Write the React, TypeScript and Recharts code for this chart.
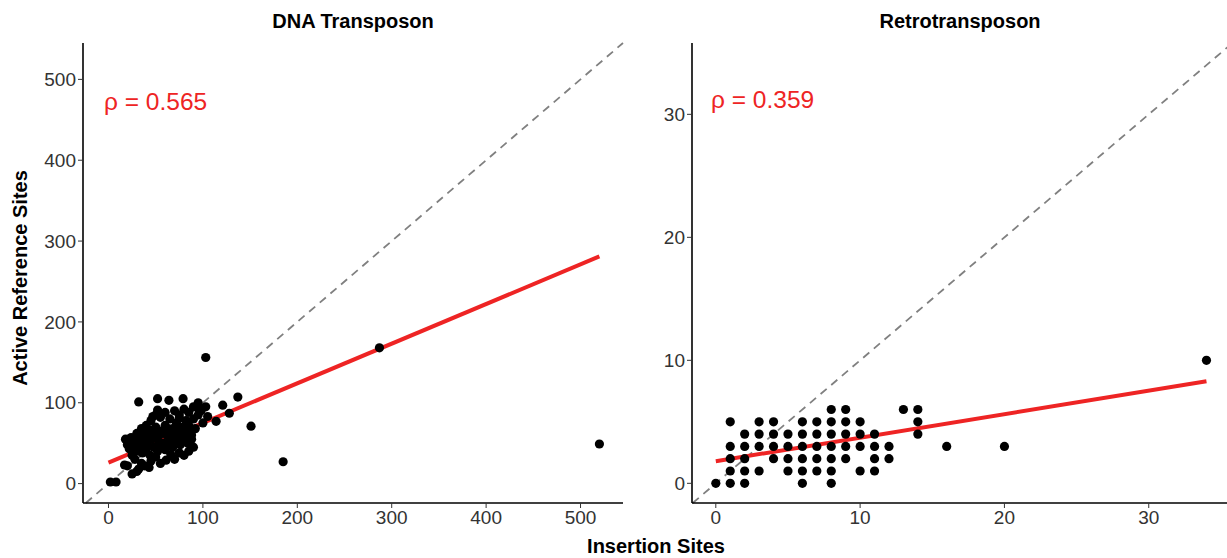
import { ScatterChart, Scatter, XAxis, YAxis, ReferenceLine } from 'recharts';

// DNA transposon: [insertion sites, active reference sites]
const dnaPoints: [number, number][] = [
  [2, 2], [8, 2], [17, 23], [20, 22], [25, 12], [30, 15], [43, 20], [35, 25], [45, 28], [55, 25],
  [61, 29], [70, 30], [80, 35], [75, 38], [85, 40], [90, 45], [32, 18], [38, 22], [50, 33], [66, 36],
  [18, 55], [22, 43], [25, 50], [28, 45], [30, 55], [33, 52], [35, 60], [38, 48], [40, 58], [42, 65],
  [45, 55], [48, 62], [50, 70], [52, 58], [55, 65], [58, 50], [60, 72], [62, 60], [65, 55], [68, 68],
  [70, 62], [72, 75], [75, 58], [78, 70], [80, 65], [82, 78], [85, 72], [88, 60], [90, 80], [92, 68],
  [95, 85], [98, 90], [100, 75], [25, 35], [28, 30], [32, 40], [36, 38], [40, 42], [44, 35], [48, 45],
  [52, 40], [56, 48], [60, 42], [64, 50], [68, 45], [72, 52], [76, 48], [80, 55], [84, 50], [88, 55],
  [30, 62], [35, 68], [40, 72], [45, 78], [50, 85], [55, 82], [60, 88], [65, 80], [70, 90], [75, 85],
  [80, 92], [85, 88], [90, 95], [95, 97], [20, 48], [24, 57], [27, 40], [31, 47], [34, 44], [37, 55],
  [41, 50], [46, 66], [53, 52], [57, 62], [63, 68], [67, 58], [71, 66], [77, 62], [83, 60], [87, 67],
  [32, 101], [52, 105], [64, 103], [79, 105], [95, 100], [103, 95], [105, 83], [96, 91], [47, 83], [52, 91],
  [75, 81], [114, 77], [121, 97], [128, 87], [137, 107], [151, 71], [103, 156], [185, 27], [287, 168], [520, 49],
];

// Retrotransposon: [insertion sites, active reference sites]
const retroPoints: [number, number][] = [
  [0, 0], [1, 0], [2, 0], [6, 0], [8, 0],
  [1, 1], [2, 1], [3, 1], [5, 1], [6, 1], [7, 1], [8, 1], [10, 1], [11, 1],
  [1, 2], [2, 2], [4, 2], [5, 2], [6, 2], [7, 2], [8, 2], [9, 2], [11, 2], [12, 2],
  [1, 3], [2, 3], [3, 3], [4, 3], [5, 3], [6, 3], [7, 3], [8, 3], [9, 3], [10, 3], [11, 3], [12, 3], [16, 3], [20, 3],
  [2, 4], [3, 4], [4, 4], [5, 4], [6, 4], [7, 4], [8, 4], [9, 4], [10, 4], [11, 4], [14, 4],
  [1, 5], [3, 5], [4, 5], [6, 5], [7, 5], [8, 5], [9, 5], [10, 5], [14, 5],
  [8, 6], [9, 6], [13, 6], [14, 6],
  [34, 10],
];

// fitted regression lines (end points)
const dnaFit: [number, number][] = [[0, 26], [520, 281]];
const retroFit: [number, number][] = [[0, 1.8], [34, 8.3]];

const dnaTicks = [0, 100, 200, 300, 400, 500];
const retroTicks = [0, 10, 20, 30];
const dnaRho = '0.565';
const retroRho = '0.359';

const FONT = '"Liberation Sans", Arial, Helvetica, sans-serif';
const RED = '#ee2424';
const tickStyle = { fill: '#333', fontSize: 19, fontFamily: FONT };

const Dot = (props: any) => <circle cx={props.cx} cy={props.cy} r={4.6} fill="#000" />;

const toXY = (arr: [number, number][]) => arr.map(([x, y]) => ({ x, y }));

function Panel({ points, fit, ticks, xDomain, yDomain, width, yWidth, right, diag }: any) {
  return (
    <ScatterChart width={width} height={558} margin={{ top: 43, right, bottom: 0, left: 0 }}>
      <XAxis
        type="number" dataKey="x" domain={xDomain} ticks={ticks} allowDataOverflow height={55}
        tick={tickStyle} tickSize={5} tickMargin={3} axisLine={{ stroke: '#000', strokeWidth: 1.6 }} tickLine={{ stroke: '#333' }}
      />
      <YAxis
        type="number" dataKey="y" domain={yDomain} ticks={ticks} allowDataOverflow width={yWidth}
        tick={tickStyle} tickSize={5} tickMargin={2} axisLine={{ stroke: '#000', strokeWidth: 1.6 }} tickLine={{ stroke: '#333' }}
      />
      <ReferenceLine
        segment={[{ x: diag[0], y: diag[0] }, { x: diag[1], y: diag[1] }]}
        stroke="#808080" strokeWidth={1.8} strokeDasharray="8 6" ifOverflow="visible"
      />
      <Scatter data={toXY(points)} shape={Dot} isAnimationActive={false} />
      <ReferenceLine
        segment={toXY(fit)}
        stroke={RED} strokeWidth={4} ifOverflow="visible"
      />
    </ScatterChart>
  );
}

export default function App() {
  return (
    <div style={{ position: 'absolute', left: 0, top: 0, width: 1227, height: 558, overflow: 'hidden', background: '#fff', fontFamily: FONT }}>
      <div style={{ position: 'absolute', left: 0, top: 0 }}>
        <Panel points={dnaPoints} fit={dnaFit} ticks={dnaTicks} xDomain={[-27, 545]} yDomain={[-24, 545]}
          width={640} yWidth={83} right={17} diag={[-24, 545]} />
      </div>
      <div style={{ position: 'absolute', left: 620, top: 0 }}>
        <Panel points={retroPoints} fit={retroFit} ticks={retroTicks} xDomain={[-1.65, 35.7]} yDomain={[-1.6, 35.8]}
          width={611} yWidth={72} right={0} diag={[-1.6, 35.7]} />
      </div>

      <div style={{ position: 'absolute', left: 203, width: 300, top: 10, textAlign: 'center', fontWeight: 'bold', fontSize: 20, color: '#000' }}>DNA Transposon</div>
      <div style={{ position: 'absolute', left: 810, width: 300, top: 10, textAlign: 'center', fontWeight: 'bold', fontSize: 20, color: '#000' }}>Retrotransposon</div>

      <div style={{ position: 'absolute', left: 104, top: 88, fontSize: 24.5, color: RED, whiteSpace: 'nowrap' }}>ρ = {dnaRho}</div>
      <div style={{ position: 'absolute', left: 711, top: 86, fontSize: 24.5, color: RED, whiteSpace: 'nowrap' }}>ρ = {retroRho}</div>

      <div style={{ position: 'absolute', left: 506, width: 300, top: 535, textAlign: 'center', fontWeight: 'bold', fontSize: 20, color: '#000' }}>Insertion Sites</div>
      <div style={{
        position: 'absolute', left: 20, top: 278, width: 300, marginLeft: -150, marginTop: -12, height: 24, lineHeight: '24px',
        textAlign: 'center', fontWeight: 'bold', fontSize: 20, color: '#000', transform: 'rotate(-90deg)', whiteSpace: 'nowrap',
      }}>Active Reference Sites</div>
    </div>
  );
}
